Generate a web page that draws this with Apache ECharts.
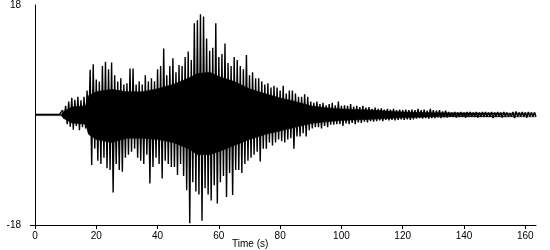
<!DOCTYPE html>
<html>
<head>
<meta charset="utf-8">
<script src="https://cdn.jsdelivr.net/npm/echarts@6/dist/echarts.min.js"></script>
<style>
html,body{margin:0;padding:0;background:#fff;}
#chart{width:550px;height:250px;}
</style>
</head>
<body>
<div id="chart"></div>
<script>
// Peak values (cm/s/s), one per second (index = second).
// Positive peak near t, negative peak near t + 0.5 s.
const upperPeaks = [
  0.1,0.1,0.1,0.1,0.1,0.1,0.1,0.1,0.1,0.8,
  1.5,2.2,2.8,2.5,3.0,2.4,3.0,4.0,7.4,8.3,
  5.8,5.5,8.0,8.7,7.5,8.6,6.5,5.5,6.0,5.0,
  5.2,7.6,7.6,5.0,5.5,5.0,6.5,5.5,6.0,5.5,
  7.5,8.0,10.9,6.5,8.0,9.3,7.0,8.2,8.0,9.5,
  10.4,9.0,15.0,15.5,16.5,16.1,12.5,10.5,11.0,15.0,
  9.5,10.0,11.7,8.5,8.0,9.5,9.0,8.0,7.5,9.8,
  6.5,7.0,6.0,6.0,5.5,5.0,5.2,4.5,4.8,4.5,
  4.0,4.8,3.5,4.0,4.0,3.5,3.0,3.0,3.4,3.0,
  2.2,2.0,2.2,1.8,2.0,1.6,1.8,2.0,1.6,2.2,
  1.5,1.6,1.5,1.8,1.4,1.5,1.3,1.5,1.2,1.3,
  1.0,1.2,1.0,1.1,0.9,1.0,0.9,1.0,0.8,0.9,
  0.8,0.9,0.8,0.9,0.8,1.0,0.8,0.9,0.7,1.0,
  0.8,0.7,0.8,0.6,0.7,0.5,0.4,0.5,0.4,0.5,
  0.4,0.5,0.5,0.4,0.5,0.4,0.5,0.5,0.4,0.5,
  0.4,0.5,0.4,0.5,0.4,0.3,0.5,0.6,0.4,0.5,
  0.4,0.5,0.4,0.4
];
const lowerPeaks = [
  -0.1,-0.1,-0.1,-0.1,-0.1,-0.1,-0.1,-0.1,-0.1,-0.6,
  -1.5,-1.9,-2.4,-1.8,-2.5,-2.0,-2.2,-3.0,-8.2,-5.5,
  -7.5,-8.0,-7.0,-8.7,-9.0,-12.7,-8.0,-9.0,-9.3,-7.0,
  -6.5,-6.0,-5.5,-7.0,-7.5,-8.0,-6.5,-11.2,-8.5,-7.0,
  -8.0,-10.4,-7.5,-8.0,-8.5,-8.5,-9.8,-8.0,-10.0,-12.3,
  -17.7,-11.0,-12.5,-13.0,-17.3,-12.0,-13.0,-14.0,-11.5,-14.5,
  -11.0,-10.0,-13.4,-9.5,-13.1,-9.0,-9.0,-9.5,-8.0,-7.5,
  -7.0,-6.5,-6.0,-7.6,-5.5,-5.5,-4.5,-5.0,-4.5,-4.0,
  -4.3,-4.5,-4.0,-3.8,-5.5,-3.5,-3.5,-3.0,-3.5,-2.5,
  -2.2,-2.0,-2.0,-2.2,-1.8,-2.0,-1.6,-1.6,-1.5,-1.5,
  -1.8,-1.4,-1.5,-1.3,-1.5,-1.2,-1.3,-1.1,-1.2,-1.0,
  -1.1,-1.0,-0.9,-1.0,-0.8,-0.9,-0.8,-0.9,-0.8,-0.7,
  -0.8,-0.7,-0.8,-0.7,-0.6,-0.5,-0.6,-0.5,-0.6,-0.5,
  -0.5,-0.4,-0.5,-0.4,-0.4,-0.3,-0.3,-0.4,-0.3,-0.3,
  -0.4,-0.3,-0.3,-0.3,-0.4,-0.3,-0.3,-0.3,-0.3,-0.5,
  -0.3,-0.3,-0.4,-0.3,-0.3,-0.3,-0.5,-0.3,-0.3,-0.3,
  -0.4,-0.3,-0.3,-0.3
];
// Extent of the solid (densely oscillating) core of the trace, read at these times (s).
const coreTimes = [0, 8.5, 9.5, 12, 16.5, 17.5, 20, 25, 30, 35, 40, 45, 50, 53, 57, 60, 65, 70, 75, 80, 85, 90, 95, 100, 110, 120, 130, 163.5];
const coreUpper = [0.1,0.1,0.6,1.3,1.5,3.2,3.8,4.2,3.8,3.8,4.3,5.0,6.0,6.8,7.0,6.3,5.5,4.3,3.5,2.8,2.2,1.5,1.2,1.0,0.8,0.5,0.35,0.3];
const coreLower = [-0.1,-0.1,-0.6,-1.3,-1.5,-3.2,-4.0,-4.5,-3.8,-3.8,-4.0,-4.5,-5.5,-6.5,-6.5,-6.0,-5.0,-4.0,-3.2,-2.6,-2.0,-1.4,-1.1,-0.9,-0.7,-0.45,-0.3,-0.3];

const xTicks = [0, 20, 40, 60, 80, 100, 120, 140, 160];
const yLabels = [-18, 18];
const yTicks = [-18];
const xTitle = 'Time (s)';
const yTitle = 'cm/s/s';

const trace = [];
for (let i = 0; i < upperPeaks.length; i++) {
  trace.push([i, upperPeaks[i]]);
  trace.push([i + 0.5, lowerPeaks[i]]);
}
const coreTop = coreTimes.map((t, i) => [t, coreUpper[i]]);
const coreBottom = coreTimes.map((t, i) => [t, coreLower[i]]);

const font = 'Liberation Sans, Arial, sans-serif';
const chart = echarts.init(document.getElementById('chart'), null, {renderer: 'canvas'});
const coreSeries = (data) => ({
  type: 'line', data: data, showSymbol: false, symbol: 'none', silent: true,
  sampling: false, smooth: false,
  lineStyle: {color: '#000', width: 0.5},
  areaStyle: {color: '#000', opacity: 1, origin: 0}
});
chart.setOption({
  animation: false,
  backgroundColor: '#ffffff',
  grid: {left: 35, right: 14, top: 5, bottom: 25, containLabel: false, outerBoundsMode: 'none'},
  xAxis: {
    type: 'value', min: 0, max: 163.5, interval: 20,
    axisLine: {onZero: false, lineStyle: {color: '#000', width: 1}},
    axisTick: {show: true, length: 4, customValues: xTicks, lineStyle: {color: '#000'}},
    axisLabel: {customValues: xTicks, color: '#000', fontSize: 10, fontFamily: font, margin: 6},
    splitLine: {show: false}
  },
  yAxis: {
    type: 'value', min: -18, max: 18, interval: 18,
    name: yTitle, nameLocation: 'middle', nameGap: 21, nameRotate: 90,
    nameTextStyle: {color: '#000', fontSize: 10, fontFamily: font},
    axisLine: {onZero: false, lineStyle: {color: '#000', width: 1}},
    axisTick: {show: true, length: 5, customValues: yTicks, lineStyle: {color: '#000'}},
    axisLabel: {customValues: yLabels, color: '#000', fontSize: 10, fontFamily: font, margin: 14},
    splitLine: {show: false}
  },
  graphic: [{
    type: 'text', left: 232, top: 239,
    style: {text: xTitle, fill: '#000', fontSize: 10, fontFamily: font}
  }],
  series: [
    coreSeries(coreTop),
    coreSeries(coreBottom),
    {
      type: 'line', data: trace, showSymbol: false, symbol: 'none',
      sampling: false, smooth: false,
      lineStyle: {color: '#000', width: 1.4}
    }
  ]
});
</script>
</body>
</html>
